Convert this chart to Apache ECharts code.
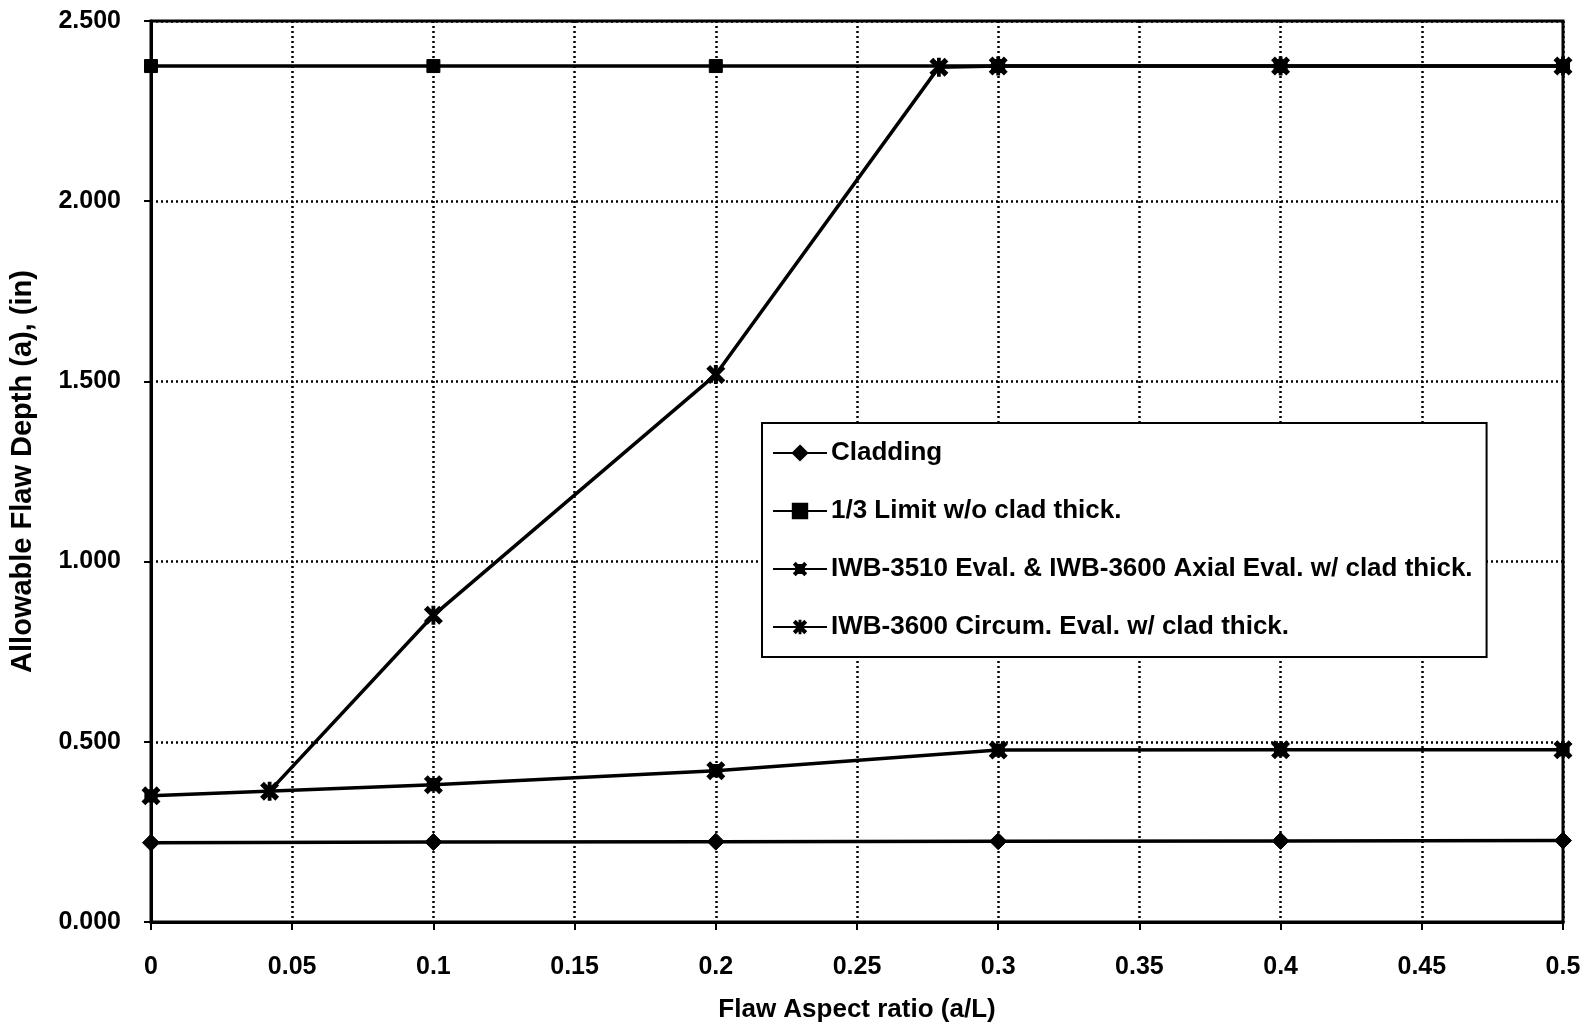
<!DOCTYPE html>
<html>
<head>
<meta charset="utf-8">
<title>Allowable Flaw Depth vs Flaw Aspect Ratio</title>
<script src="https://cdn.jsdelivr.net/npm/echarts@6/dist/echarts.min.js"></script>
<style>
  html, body { margin: 0; padding: 0; background: #fff; }
  #chart { width: 1589px; height: 1028px; }
</style>
</head>
<body>
<div id="chart"></div>
<script>
// Flaw aspect ratio (a/L) and allowable flaw depth (in) per curve
const cladX = [0, 0.1, 0.2, 0.3, 0.4, 0.5];
const cladY = [0.220, 0.222, 0.223, 0.224, 0.225, 0.226];

const limitX = [0, 0.1, 0.2, 0.3, 0.4, 0.5];
const limitY = [2.375, 2.375, 2.375, 2.375, 2.375, 2.375];

const axialX = [0, 0.1, 0.2, 0.3, 0.4, 0.5];
const axialY = [0.350, 0.381, 0.420, 0.477, 0.478, 0.478];

const circX = [0.042, 0.1, 0.2, 0.279, 0.3, 0.4, 0.5];
const circY = [0.363, 0.851, 1.519, 2.372, 2.375, 2.375, 2.375];

const seriesNames = [
  'Cladding',
  '1/3 Limit w/o clad thick.',
  'IWB-3510 Eval. & IWB-3600 Axial Eval. w/ clad thick.',
  'IWB-3600 Circum. Eval. w/ clad thick.'
];

const xTicks = ['0', '0.05', '0.1', '0.15', '0.2', '0.25', '0.3', '0.35', '0.4', '0.45', '0.5'];
const yTicks = ['0.000', '0.500', '1.000', '1.500', '2.000', '2.500'];

const pairs = (xs, ys) => xs.map((x, i) => [x, ys[i]]);

// marker shapes: square with crossed spikes, and an asterisk
const squareStar = 'path://M1.5,1.5 L8.5,1.5 L8.5,8.5 L1.5,8.5 Z M0,2 L2,0 L10,8 L8,10 Z M8,0 L10,2 L2,10 L0,8 Z';
const asterisk = 'path://M0,2 L2,0 L10,8 L8,10 Z M8,0 L10,2 L2,10 L0,8 Z M4,0 L6,0 L6,10 L4,10 Z';

const FONT = '"Liberation Sans", Arial, Helvetica, sans-serif';
const lineStyle = { color: '#000', width: 3.5 };

const chart = echarts.init(document.getElementById('chart'), null, { renderer: 'canvas' });

chart.setOption({
  backgroundColor: '#fff',
  animation: false,
  textStyle: { fontFamily: FONT, color: '#000' },
  grid: {
    left: 149, right: 26, top: 21, bottom: 101,
    show: true, borderColor: '#000', borderWidth: 3
  },
  legend: {
    orient: 'vertical',
    left: 762, top: 423,
    padding: [16, 14, 16, 10],
    itemWidth: 54, itemHeight: 18, itemGap: 30,
    borderColor: '#000', borderWidth: 2,
    backgroundColor: '#fff',
    textStyle: { fontFamily: FONT, fontWeight: 'bold', fontSize: 26, color: '#000', lineHeight: 28, padding: [0, 0, 0, -1] },
    data: seriesNames
  },
  xAxis: {
    type: 'value',
    min: 0, max: 0.5, interval: 0.05,
    name: 'Flaw Aspect ratio (a/L)',
    nameLocation: 'middle', nameGap: 75,
    nameTextStyle: { fontFamily: FONT, fontWeight: 'bold', fontSize: 26, color: '#000' },
    axisLine: { show: true, lineStyle: { color: '#000', width: 3 } },
    axisTick: { show: true, length: 8, lineStyle: { color: '#000', width: 2 } },
    axisLabel: {
      margin: 33, fontFamily: FONT, fontWeight: 'bold', fontSize: 25, color: '#000',
      formatter: (v) => xTicks[Math.round(v / 0.05)]
    },
    splitLine: { show: true, lineStyle: { color: '#000', width: 2.5, type: [2, 3] } }
  },
  yAxis: {
    type: 'value',
    min: 0, max: 2.5, interval: 0.5,
    name: 'Allowable Flaw Depth (a), (in)',
    nameLocation: 'middle', nameGap: 114,
    nameTextStyle: { fontFamily: FONT, fontWeight: 'bold', fontSize: 29, color: '#000' },
    axisLine: { show: true, lineStyle: { color: '#000', width: 3 } },
    axisTick: { show: true, length: 7, lineStyle: { color: '#000', width: 2 } },
    axisLabel: {
      margin: 30, fontFamily: FONT, fontWeight: 'bold', fontSize: 25, color: '#000',
      formatter: (v) => yTicks[Math.round(v / 0.5)]
    },
    splitLine: { show: true, lineStyle: { color: '#000', width: 2.5, type: [2, 3] } }
  },
  series: [
    {
      name: seriesNames[0], type: 'line', data: pairs(cladX, cladY),
      symbol: 'diamond', symbolSize: 17, showAllSymbol: true,
      lineStyle, itemStyle: { color: '#000', borderColor: '#000', borderWidth: 1 }
    },
    {
      name: seriesNames[1], type: 'line', data: pairs(limitX, limitY),
      symbol: 'rect', symbolSize: 13, showAllSymbol: true,
      lineStyle, itemStyle: { color: '#000', borderColor: '#000', borderWidth: 1 }
    },
    {
      name: seriesNames[2], type: 'line', data: pairs(axialX, axialY),
      symbol: squareStar, symbolSize: 19, showAllSymbol: true,
      lineStyle, itemStyle: { color: '#000', borderColor: '#000', borderWidth: 0 }
    },
    {
      name: seriesNames[3], type: 'line', data: pairs(circX, circY),
      symbol: asterisk, symbolSize: 19, showAllSymbol: true,
      lineStyle, itemStyle: { color: '#000', borderColor: '#000', borderWidth: 0 }
    }
  ]
});
</script>
</body>
</html>
